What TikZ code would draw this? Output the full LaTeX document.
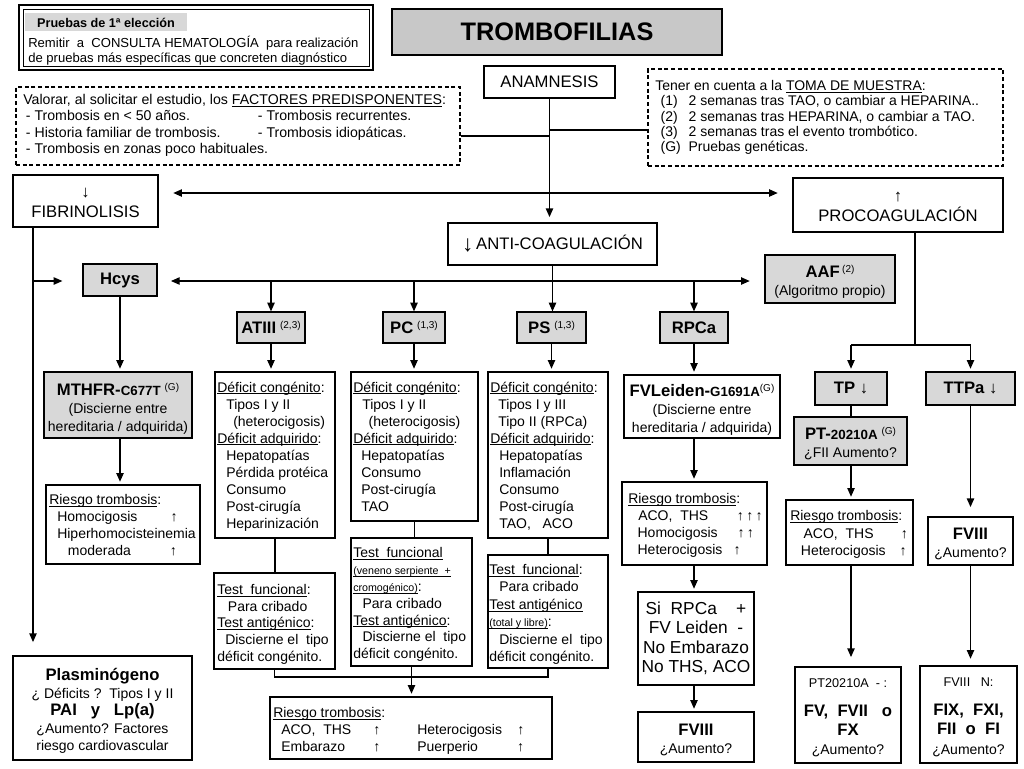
\documentclass[tikz,border=0pt]{standalone}
\usepackage{fontspec}
\setmainfont{Liberation Sans}
\usetikzlibrary{fit,arrows.meta}
\definecolor{boxgray}{RGB}{216,216,216}
\definecolor{titlegray}{RGB}{200,200,200}
\newsavebox\ulbox
\newcommand\sups[1]{\raisebox{3.8pt}{\fontsize{7.5}{8}\selectfont #1}}
\newcommand\uln[1]{\sbox\ulbox{#1}\rlap{\rule[-1.4pt]{\wd\ulbox}{0.5pt}}\usebox\ulbox}
\newcommand\fs[2]{\fontsize{#1}{#2}\selectfont}
\begin{document}
\begin{tikzpicture}[x=0.75pt,y=-0.75pt,
  every node/.style={inner sep=0pt, font=\fs{10.5}{12.75}},
  bx/.style={draw, line width=0.9pt},
  gbx/.style={bx, fill=boxgray},
  dbx/.style={draw, line width=0.8pt, dash pattern=on 3pt off 2pt},
  ln/.style={line width=0.9pt},
  arr/.style={line width=0.9pt, -{Triangle[length=6.5pt,width=5.5pt]}, shorten >=2pt},
  darr/.style={line width=0.9pt, {Triangle[length=6.5pt,width=5.5pt]}-{Triangle[length=6.5pt,width=5.5pt]}},
  lt/.style={anchor=north west, align=left},
  ct/.style={align=center, font=\fs{10.5}{13.5}, yshift=-2.2pt},
  big/.style={align=center, font=\fs{12.5}{15}},
]
\useasboundingbox (0,0) rectangle (1024,768);
\fill[white] (0,0) rectangle (1024,768);

% ---------- top-left box ----------
\node[draw, line width=1.5pt, fit={(19,5) (373,70)}] (pru) {};
\draw[line width=0.6pt] (23,9) rectangle (369,66);
\node[fill=boxgray, fit={(25,13) (187,31)}] (prh) {};
\node[font=\bfseries\fs{9.5}{11}, yshift=-0.6pt] (prht) at (prh.center) {Pruebas de 1ª elección};
\node[lt, font=\fs{9.8}{11.25}] (prt) at (28,36) {Remitir\ \ a\ \ CONSULTA HEMATOLOGÍA\ \ para realización\\de pruebas más específicas que concreten diagnóstico};

% ---------- title ----------
\node[draw, line width=2.2pt, fill=titlegray, fit={(392,9) (722,55)}] (title) {};
\node[font=\bfseries\fs{19}{22}] (titlet) at (title.center) {TROMBOFILIAS};

% ---------- anamnesis ----------
\node[bx, fit={(484,66) (615,98)}] (anam) {};
\node[big] (anamt) at (anam.center) {ANAMNESIS};

\node[dbx, fit={(16,87) (460,165)}] (pred) {};
\node[lt, font=\fs{10.6}{12.25}] (predt) at (23,94) {Valorar, al solicitar el estudio, los \uln{FACTORES PREDISPONENTES}:\\
\hspace*{2pt}\makebox[174pt][l]{- Trombosis en < 50 años.}- Trombosis recurrentes.\\
\hspace*{2pt}\makebox[174pt][l]{- Historia familiar de trombosis.}- Trombosis idiopáticas.\\
\hspace*{2pt}- Trombosis en zonas poco habituales.};

\node[dbx, fit={(648,69) (1003,166)}] (tm) {};
\node[lt, font=\fs{10.5}{11.5}] (tmt) at (655,80) {Tener en cuenta a la \uln{TOMA DE MUESTRA}:\\
\hspace*{4pt}\makebox[21pt][l]{(1)}2 semanas tras TAO, o cambiar a HEPARINA..\\
\hspace*{4pt}\makebox[21pt][l]{(2)}2 semanas tras HEPARINA, o cambiar a TAO.\\
\hspace*{4pt}\makebox[21pt][l]{(3)}2 semanas tras el evento trombótico.\\
\hspace*{4pt}\makebox[21pt][l]{(G)}Pruebas genéticas.};

\coordinate (j1) at (549,136);
\coordinate (j2) at (549,130);
\draw[ln] (pred.east |- j1) -- (j1);
\draw[ln] (tm.west |- j2) -- (j2);

% ---------- level 2 ----------
\node[bx, fit={(13,175) (158,227)}] (fib) {};
\node[big, font=\fs{12.5}{14.5}, yshift=-1.5pt] (fibt) at (fib.center) {↓\\FIBRINOLISIS};
\node[bx, fit={(793,178) (1003,232)}] (proc) {};
\node[big, font=\fs{12.5}{14.5}, yshift=-1.5pt] (proct) at (proc.center) {↑\\PROCOAGULACIÓN};
\node[bx, fit={(448,223) (657,265)}] (ac) {};
\node[font=\fs{12.5}{15}] (act) at (ac.center) {\raisebox{-1.5pt}{\fs{17}{17}↓}\,ANTI-COAGULACIÓN};

\coordinate (h1) at (0,193);
\draw[darr, shorten <=11pt, shorten >=11pt] (fib.east |- h1) -- (proc.west |- h1);
\draw[arr, shorten >=4pt] (anam.south) -- (anam.south |- ac.north);

% ---------- level 3 ----------
\node[gbx, fit={(83,264) (157,296)}] (hcys) {};
\node[font=\bfseries\fs{12.5}{15}] (hcyst) at (hcys.center) {Hcys};
\node[gbx, fit={(765,255) (895,303)}] (aaf) {};
\node[ct] (aaft) at (aaf.center) {{\bfseries\fs{12.5}{13.5}AAF}\,\sups{(2)}\\(Algoritmo propio)};

\coordinate (hl) at (0,281);
\coordinate (fx) at (33,0);
\draw[darr, shorten <=10pt, shorten >=11pt] (hcys.east |- hl) -- (aaf.west |- hl);
\draw[arr, shorten >=15pt] (fx |- hl) -- (hcys.west |- hl);

\node[gbx, fit={(237,312) (305,343)}] (atiii) {};
\node (atiiit) at (atiii.center) {{\bfseries\fs{12.5}{15}ATIII}\ \sups{(2,3)}};
\node[gbx, fit={(383,312) (445,343)}] (pc) {};
\node (pct0) at (pc.center) {{\bfseries\fs{12.5}{15}PC}\ \sups{(1,3)}};
\node[gbx, fit={(517,312) (586,343)}] (ps) {};
\node (pst0) at (ps.center) {{\bfseries\fs{12.5}{15}PS}\ \sups{(1,3)}};
\node[gbx, fit={(660,312) (728,343)}] (rpca) {};
\node[font=\bfseries\fs{12.5}{15}] (rpcat) at (rpca.center) {RPCa};

\draw[arr, shorten >=0pt] (atiii.north |- hl) -- (atiii.north);
\draw[arr, shorten >=0pt] (pc.north |- hl) -- (pc.north);
\draw[arr, shorten >=0pt] (ac.south) -- (ac.south |- ps.north);
\draw[arr, shorten >=0pt] (rpca.north |- hl) -- (rpca.north);

% ---------- ATIII / PC / PS ----------
\node[bx, fit={(215,372) (335,538)}] (atd) {};
\node[lt] (atdt) at (217,381.5) {\uln{Déficit congénito}:\\
\hspace*{6.75pt}Tipos I y II\\
\hspace*{12pt}(heterocigosis)\\
\uln{Déficit adquirido}:\\
\hspace*{6.75pt}Hepatopatías\\
\hspace*{6.75pt}Pérdida protéica\\
\hspace*{6.75pt}Consumo\\
\hspace*{6.75pt}Post-cirugía\\
\hspace*{6.75pt}Heparinización};

\node[bx, fit={(351,372) (478,521)}] (pcd) {};
\node[lt] (pcdt) at (353,381.5) {\uln{Déficit congénito}:\\
\hspace*{6.75pt}Tipos I y II\\
\hspace*{11.5pt}(heterocigosis)\\
\uln{Déficit adquirido}:\\
\hspace*{6pt}Hepatopatías\\
\hspace*{6pt}Consumo\\
\hspace*{6pt}Post-cirugía\\
\hspace*{6pt}TAO};

\node[bx, fit={(488,372) (608,538)}] (psd) {};
\node[lt] (psdt) at (490,381.5) {\uln{Déficit congénito}:\\
\hspace*{6pt}Tipos I y III\\
\hspace*{6pt}Tipo II (RPCa)\\
\uln{Déficit adquirido}:\\
\hspace*{6.75pt}Hepatopatías\\
\hspace*{6.75pt}Inflamación\\
\hspace*{6.75pt}Consumo\\
\hspace*{6.75pt}Post-cirugía\\
\hspace*{6.75pt}TAO,\ \ \ ACO};

\draw[arr] (atiii.south) -- (atiii.south |- atd.north);
\draw[arr] (pc.south) -- (pc.south |- pcd.north);
\draw[arr] (ps.south) -- (ps.south |- psd.north);

\node[bx, fit={(214,573) (335,669)}] (att) {};
\node[lt, font=\fs{10.5}{12.5}] (attt) at (217,584) {\uln{Test\ \ funcional}:\\
\hspace*{8pt}Para cribado\\
\uln{Test antigénico}:\\
\hspace*{6pt}Discierne el\ \ tipo\\
déficit congénito.};

\node[bx, fit={(351,538) (472,666)}] (pct) {};
\node[lt, font=\fs{10.5}{12.6}] (pctt) at (353,547.5) {\uln{Test\ \ funcional}\\
{\fs{8}{9}\uln{(veneno serpiente\ \ +}}\\
{\fs{8}{9}\uln{cromogénico)}}:\\
\hspace*{7pt}Para cribado\\
\uln{Test antigénico}:\\
\hspace*{7pt}Discierne el\ \ tipo\\
déficit congénito.};

\node[bx, fit={(488,555) (608,668)}] (pst) {};
\node[lt, font=\fs{10.5}{13.1}] (pstt) at (489,564) {\uln{Test\ \ funcional}:\\
\hspace*{7.5pt}Para cribado\\
\uln{Test antigénico}\\
{\fs{8}{9}\uln{(total y libre)}}:\\
\hspace*{7.5pt}Discierne el\ \ tipo\\
déficit congénito.};

\draw[ln] (atd.south) -- (atd.south |- att.north);
\draw[ln] (pcd.south) -- (pcd.south |- pct.north);
\draw[ln] (psd.south) -- (psd.south |- pst.north);

\node[bx, fit={(270,697) (552,759)}] (bot) {};
\node[lt, font=\fs{10.5}{12.75}] (bott) at (273,707) {\uln{Riesgo trombosis}:\\
\hspace*{6pt}\makebox[69pt][l]{ACO,\ \ THS}\makebox[33pt][l]{↑}\makebox[75pt][l]{Heterocigosis}↑\\
\hspace*{6pt}\makebox[69pt][l]{Embarazo}\makebox[33pt][l]{↑}\makebox[75pt][l]{Puerperio}↑};

\coordinate (jb) at (0,677);
\draw[ln] (att.south) -- (att.south |- jb) -- (pst.south |- jb) -- (pst.south);
\draw[arr] (pct.south) -- (pct.south |- bot.north);

% ---------- Hcys column ----------
\node[gbx, fit={(44,372) (192,438)}] (mthfr) {};
\node[ct, yshift=-0.8pt] (mthfrt) at (mthfr.center) {{\bfseries\fs{12.5}{15}MTHFR-}{\bfseries\fs{10}{12}C677T}\ \sups{(G)}\\(Discierne entre\\hereditaria / adquirida)};
\draw[arr] (hcys.south) -- (hcys.south |- mthfr.north);

\node[bx, fit={(46,485) (200,564)}] (mrisk) {};
\node[lt, font=\fs{10.5}{12.6}] (mriskt) at (49,494.5) {\uln{Riesgo trombosis}:\\
\hspace*{6pt}\makebox[85pt][l]{Homocigosis}↑\\
\hspace*{6pt}Hiperhomocisteinemia\\
\hspace*{14pt}\makebox[76.5pt][l]{moderada}↑};
\draw[arr] (hcys.south |- mthfr.south) -- (hcys.south |- mrisk.north);

\node[bx, fit={(13,656) (192,760)}] (plas) {};
\node[ct, font=\fs{10.5}{13.2}] (plast) at (plas.center) {{\bfseries\fs{12.5}{13.2}Plasminógeno}\\
¿ Déficits ?\ \ Tipos I y II\\
{\bfseries\fs{12.5}{13.2}PAI\ \ \ y\ \ \ Lp(a)}\\
¿Aumento? Factores\\
riesgo cardiovascular};
\draw[arr, shorten >=10pt] (fib.south -| fx) -- (plas.north -| fx);

% ---------- RPCa column ----------
\node[bx, fit={(624,375) (780,438)}] (fvl) {};
\node[ct] (fvlt) at (fvl.center) {{\bfseries\fs{12.5}{15}FVLeiden-}{\bfseries\fs{10}{12}G1691A}\sups{(G)}\\(Discierne entre\\hereditaria / adquirida)};
\draw[arr] (rpca.south) -- (rpca.south |- fvl.north);

\node[bx, fit={(622,482) (767,565)}] (frisk) {};
\node[lt, font=\fs{10.5}{12.8}] (friskt) at (628,493) {\uln{Riesgo trombosis}:\\
\hspace*{7.5pt}\makebox[74pt][l]{ACO,\ \ THS}↑\,↑\,↑\\
\hspace*{7pt}\makebox[75pt][l]{Homocigosis}↑\,↑\\
\hspace*{7pt}\makebox[72pt][l]{Heterocigosis}↑};
\draw[arr] (rpca.south |- fvl.south) -- (rpca.south |- frisk.north);

\node[bx, fit={(638,592) (754,685)}] (si) {};
\node[align=center, font=\fs{13}{14.6}] (sit) at (si.center) {Si\ \ RPCa\ \ \ \ +\\FV Leiden\ \ -\\No Embarazo\\No THS, ACO};
\draw[arr] (rpca.south |- frisk.south) -- (rpca.south |- si.north);

\node[bx, fit={(638,712) (754,762)}] (f8) {};
\node[ct] (f8t) at (f8.center) {{\bfseries\fs{12.5}{14}FVIII}\\¿Aumento?};
\draw[arr] (rpca.south |- si.south) -- (rpca.south |- f8.north);

% ---------- procoagulation column ----------
\node[gbx, fit={(815,372) (887,405)}] (tp) {};
\node[font=\bfseries\fs{12.5}{15}] (tpt) at (tp.center) {TP ↓};
\node[gbx, fit={(926,372) (1015,405)}] (ttpa) {};
\node[font=\bfseries\fs{12.5}{15}] (ttpat) at (ttpa.center) {TTPa ↓};

\coordinate (sp) at (915,345);
\draw[ln] (proc.south -| sp) -- (sp);
\draw[ln] (tp.north |- sp) -- (ttpa.north |- sp);
\draw[arr] (tp.north |- sp) -- (tp.north);
\draw[arr] (ttpa.north |- sp) -- (ttpa.north);

\node[gbx, fit={(794,417) (907,465)}] (pt) {};
\node[ct] (ptt) at (pt.center) {{\bfseries\fs{12.5}{14}PT-}{\bfseries\fs{10}{12}20210A}\ \sups{(G)}\\¿FII Aumento?};
\draw[ln] (tp.south) -- (tp.south |- pt.north);

\node[bx, fit={(786,500) (913,565)}] (ptr) {};
\node[lt, font=\fs{10.5}{13.2}] (ptrt) at (790,510) {\uln{Riesgo trombosis}:\\
\hspace*{10pt}\makebox[73pt][l]{ACO,\ \ THS}↑\\
\hspace*{8pt}\makebox[74pt][l]{Heterocigosis}↑};
\draw[arr] (tp.south |- pt.south) -- (tp.south |- ptr.north);

\node[bx, fit={(795,667) (901,763)}] (ptb) {};
\node[ct, font=\fs{10.5}{14.5}] (ptbt) at (ptb.center) {{\fs{9.5}{11}PT20210A\ \ - :}\\[7pt]
{\bfseries\fs{12.5}{14.5}FV,\ \ FVII\ \ \ o}\\
{\bfseries\fs{12.5}{14.5}FX}\\
¿Aumento?};
\draw[arr, shorten >=7pt] (tp.south |- ptr.south) -- (tp.south |- ptb.north);

\node[bx, fit={(928,517) (1013,565)}] (f8r) {};
\node[ct] (f8rt) at (f8r.center) {{\bfseries\fs{12.5}{14}FVIII}\\¿Aumento?};
\draw[arr, shorten >=7pt] (ttpa.south) -- (ttpa.south |- f8r.north);

\node[bx, fit={(920,666) (1017,763)}] (f8n) {};
\node[ct, font=\fs{10.5}{14.5}] (f8nt) at (f8n.center) {{\fs{9.5}{11}FVIII\ \ \ N:}\\[7pt]
{\bfseries\fs{12.5}{14.5}FIX,\ \ FXI,}\\
{\bfseries\fs{12.5}{14.5}FII\ \ o\ \ FI}\\
¿Aumento?};
\draw[arr, shorten >=5pt] (ttpa.south |- f8r.south) -- (ttpa.south |- f8n.north);

\end{tikzpicture}
\end{document}
